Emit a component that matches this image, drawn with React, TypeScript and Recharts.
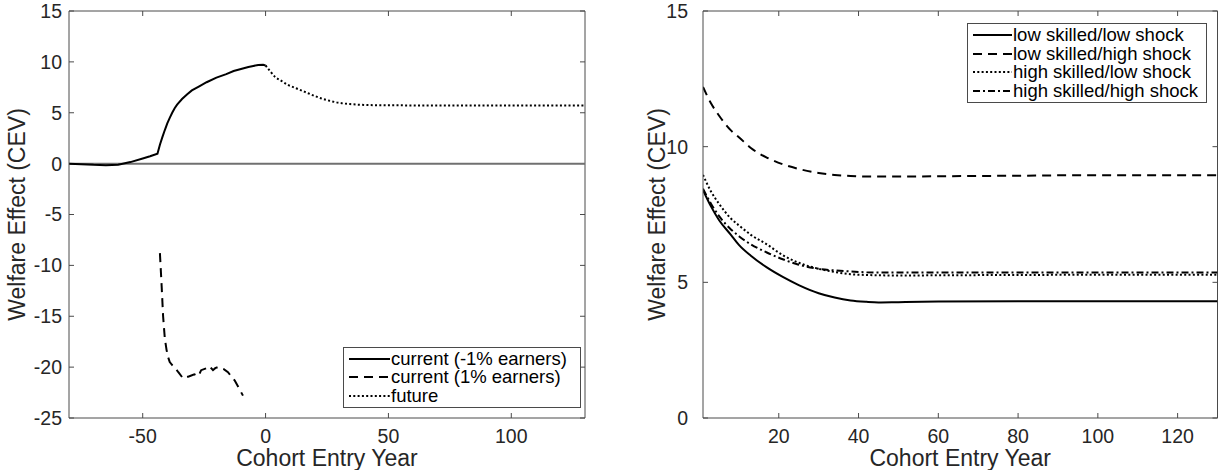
import { LineChart, Line, XAxis, YAxis, ReferenceLine, Legend } from "recharts";

const FONT = "'Liberation Sans', Arial, Helvetica, sans-serif";
const INK = "#262626";
const AXIS = "#4a4a4a";

// left panel: cohort entry year vs welfare effect
const curLowX = [-80, -75, -70, -65, -60, -55, -50, -47, -44, -43, -42, -41, -40, -39, -38, -37, -36, -34, -32, -30, -27, -24, -20, -16, -13, -10, -7, -5, -3, -1, 0];
const curLowY = [0, -0.05, -0.12, -0.15, -0.1, 0.15, 0.5, 0.72, 0.97, 1.85, 2.6, 3.3, 3.95, 4.5, 5.0, 5.45, 5.8, 6.35, 6.8, 7.2, 7.6, 8.0, 8.45, 8.8, 9.1, 9.3, 9.5, 9.6, 9.7, 9.72, 9.65];

const curHighX = [-43, -42.3, -41.7, -41, -40.3, -39.7, -39, -38, -37, -35.5, -33.6, -31, -29, -27.5, -26.8, -26.2, -24, -22.8, -21.4, -20.5, -19.4, -17, -15.3, -14, -12.6, -11, -9.2];
const curHighY = [-8.8, -12, -15, -17.2, -18.3, -19, -19.5, -19.8, -20, -20.5, -21.1, -20.9, -20.7, -20.9, -20.6, -20.3, -20.1, -19.9, -20.3, -20.1, -20.0, -20.2, -20.5, -20.9, -21.3, -22, -22.8];

const futureX = [0, 2, 4, 6, 9, 12, 16, 20, 23, 26, 30, 35, 40, 45, 50, 70, 100, 130];
const futureY = [9.65, 9.05, 8.5, 8.2, 7.75, 7.45, 7.05, 6.65, 6.38, 6.18, 5.97, 5.84, 5.77, 5.74, 5.73, 5.72, 5.72, 5.72];

const leftXDomain = [-80, 130];
const leftYDomain = [-25, 15];
const leftXTicks = [-50, 0, 50, 100];
const leftYTicks = [-25, -20, -15, -10, -5, 0, 5, 10, 15];

// right panel: skill / shock groups
const groupX = [1, 3, 5, 8, 10, 13, 17, 21, 25, 30, 34, 38, 42, 45, 50, 60, 80, 100, 130];
const lowLowY = [8.4, 7.8, 7.3, 6.75, 6.38, 5.98, 5.55, 5.2, 4.9, 4.6, 4.44, 4.33, 4.28, 4.26, 4.27, 4.29, 4.3, 4.3, 4.3];
const lowHighY = [12.2, 11.6, 11.15, 10.6, 10.35, 9.95, 9.6, 9.35, 9.18, 9.03, 8.96, 8.92, 8.9, 8.9, 8.9, 8.91, 8.93, 8.95, 8.95];
const highLowY = [8.96, 8.35, 7.9, 7.35, 7.1, 6.75, 6.4, 6.0, 5.72, 5.5, 5.38, 5.3, 5.27, 5.26, 5.25, 5.26, 5.27, 5.28, 5.28];
const highHighY = [8.45, 7.9, 7.45, 6.95, 6.7, 6.4, 6.1, 5.85, 5.65, 5.5, 5.44, 5.4, 5.37, 5.36, 5.36, 5.36, 5.36, 5.36, 5.36];

const rightXDomain = [1, 130];
const rightYDomain = [0, 15];
const rightXTicks = [20, 40, 60, 80, 100, 120];
const rightYTicks = [0, 5, 10, 15];

const zip = (xs: number[], ys: number[]) => xs.map((x, i) => ({ x, y: ys[i] }));

const SOLID = "0";
const DASH = "9 6";
const DOT = "2 2.3";
const DASHDOT = "7 3 2 3";
const TICK_LEN = 5;

// matlab-style box ticks: short marks at both ends of a reference line, pointing inward
function TickMarks(props: any) {
  const { x1, y1, x2, y2 } = props;
  if (Math.abs(x1 - x2) < 0.5) {
    const top = Math.min(y1, y2);
    const bot = Math.max(y1, y2);
    return (
      <g>
        <line x1={x1} x2={x1} y1={top} y2={top + TICK_LEN} stroke={AXIS} />
        <line x1={x1} x2={x1} y1={bot - TICK_LEN} y2={bot} stroke={AXIS} />
      </g>
    );
  }
  const lft = Math.min(x1, x2);
  const rgt = Math.max(x1, x2);
  return (
    <g>
      <line x1={lft} x2={lft + TICK_LEN} y1={y1} y2={y1} stroke={AXIS} />
      <line x1={rgt - TICK_LEN} x2={rgt} y1={y1} y2={y1} stroke={AXIS} />
    </g>
  );
}

interface LegendItem {
  label: string;
  dash: string;
}

function BoxLegend({ items, sample, row }: { items: LegendItem[]; sample: number; row: number }) {
  return (
    <div
      style={{
        border: `1px solid ${AXIS}`,
        background: "#fff",
        padding: "2px 4px 2px 5px",
        fontFamily: FONT,
        fontSize: 18.5,
        color: "#000",
        boxSizing: "border-box",
      }}
    >
      {items.map((it) => (
        <div key={it.label} style={{ display: "flex", alignItems: "center", height: row, whiteSpace: "nowrap" }}>
          <svg width={sample} height={6} style={{ flex: "none", marginRight: 1 }}>
            <line x1={0} y1={3} x2={sample} y2={3} stroke="#000" strokeWidth={2} strokeDasharray={it.dash === SOLID ? undefined : it.dash} />
          </svg>
          <span style={{ lineHeight: `${row}px` }}>{it.label}</span>
        </div>
      ))}
    </div>
  );
}

const leftLegend: LegendItem[] = [
  { label: "current (-1% earners)", dash: SOLID },
  { label: "current (1% earners)", dash: DASH },
  { label: "future", dash: DOT },
];

const rightLegend: LegendItem[] = [
  { label: "low skilled/low shock", dash: SOLID },
  { label: "low skilled/high shock", dash: DASH },
  { label: "high skilled/low shock", dash: DOT },
  { label: "high skilled/high shock", dash: DASHDOT },
];

const tickStyle = { fill: INK, fontSize: 19.5, fontFamily: FONT };
const titleStyle = { fill: INK, fontSize: 23, fontFamily: FONT };

export default function App() {
  return (
    <div style={{ position: "absolute", left: 0, top: 0, width: 1219, height: 470, background: "#fff" }}>
      <div style={{ position: "absolute", left: 0, top: 0 }}>
        <LineChart width={600} height={470} margin={{ top: 11, right: 15, bottom: 0, left: 0 }}>
          <XAxis
            type="number"
            dataKey="x"
            domain={leftXDomain}
            allowDataOverflow
            ticks={leftXTicks}
            height={52}
            tickSize={0}
            tickLine={false}
            tickMargin={11}
            stroke={AXIS}
            tick={tickStyle}
            label={{ value: "Cohort Entry Year", position: "insideBottom", offset: 4, ...titleStyle }}
          />
          <YAxis
            type="number"
            domain={leftYDomain}
            allowDataOverflow
            ticks={leftYTicks}
            width={69}
            tickSize={0}
            tickLine={false}
            tickMargin={7}
            stroke={AXIS}
            tick={tickStyle}
            label={{ value: "Welfare Effect (CEV)", angle: -90, position: "insideLeft", offset: 17, style: { textAnchor: "middle" }, ...titleStyle }}
          />
          <ReferenceLine y={leftYDomain[1]} stroke={AXIS} />
          <ReferenceLine x={leftXDomain[1]} stroke={AXIS} />
          {leftXTicks.map((t) => (
            <ReferenceLine key={`x${t}`} x={t} shape={(p: any) => <TickMarks {...p} />} />
          ))}
          {leftYTicks.map((t) => (
            <ReferenceLine key={`y${t}`} y={t} shape={(p: any) => <TickMarks {...p} />} />
          ))}
          <ReferenceLine y={0} stroke="#707070" strokeWidth={2} />
          <Line data={zip(curLowX, curLowY)} dataKey="y" type="linear" stroke="#000" strokeWidth={2} dot={false} isAnimationActive={false} />
          <Line data={zip(curHighX, curHighY)} dataKey="y" type="linear" stroke="#000" strokeWidth={2} strokeDasharray={DASH} dot={false} isAnimationActive={false} />
          <Line data={zip(futureX, futureY)} dataKey="y" type="monotone" stroke="#000" strokeWidth={2} strokeDasharray={DOT} dot={false} isAnimationActive={false} />
          <Legend
            layout="horizontal"
            align="center"
            verticalAlign="middle"
            content={() => <BoxLegend items={leftLegend} sample={41} row={18.3} />}
            wrapperStyle={{ left: 343, top: 347, width: 238, bottom: "auto", right: "auto" }}
          />
        </LineChart>
      </div>

      <div style={{ position: "absolute", left: 600, top: 0 }}>
        <LineChart width={619} height={470} margin={{ top: 11, right: 1.5, bottom: 0, left: 0 }}>
          <XAxis
            type="number"
            dataKey="x"
            domain={rightXDomain}
            allowDataOverflow
            ticks={rightXTicks}
            height={52}
            tickSize={0}
            tickLine={false}
            tickMargin={11}
            stroke={AXIS}
            tick={tickStyle}
            label={{ value: "Cohort Entry Year", position: "insideBottom", offset: 4, ...titleStyle }}
          />
          <YAxis
            type="number"
            domain={rightYDomain}
            allowDataOverflow
            ticks={rightYTicks}
            width={103}
            tickSize={0}
            tickLine={false}
            tickMargin={15}
            stroke={AXIS}
            tick={tickStyle}
            label={{ value: "Welfare Effect (CEV)", angle: -90, position: "insideLeft", offset: 57, style: { textAnchor: "middle" }, ...titleStyle }}
          />
          <ReferenceLine y={rightYDomain[1]} stroke={AXIS} />
          <ReferenceLine x={rightXDomain[1]} stroke={AXIS} />
          {rightXTicks.map((t) => (
            <ReferenceLine key={`x${t}`} x={t} shape={(p: any) => <TickMarks {...p} />} />
          ))}
          {rightYTicks.map((t) => (
            <ReferenceLine key={`y${t}`} y={t} shape={(p: any) => <TickMarks {...p} />} />
          ))}
          <Line data={zip(groupX, lowLowY)} dataKey="y" type="monotone" stroke="#000" strokeWidth={2} dot={false} isAnimationActive={false} />
          <Line data={zip(groupX, lowHighY)} dataKey="y" type="monotone" stroke="#000" strokeWidth={2} strokeDasharray={DASH} dot={false} isAnimationActive={false} />
          <Line data={zip(groupX, highLowY)} dataKey="y" type="monotone" stroke="#000" strokeWidth={2} strokeDasharray={DOT} dot={false} isAnimationActive={false} />
          <Line data={zip(groupX, highHighY)} dataKey="y" type="monotone" stroke="#000" strokeWidth={2} strokeDasharray={DASHDOT} dot={false} isAnimationActive={false} />
          <Legend
            layout="horizontal"
            align="center"
            verticalAlign="middle"
            content={() => <BoxLegend items={rightLegend} sample={39} row={18.6} />}
            wrapperStyle={{ left: 367, top: 23, width: 240, bottom: "auto", right: "auto" }}
          />
        </LineChart>
      </div>
    </div>
  );
}
